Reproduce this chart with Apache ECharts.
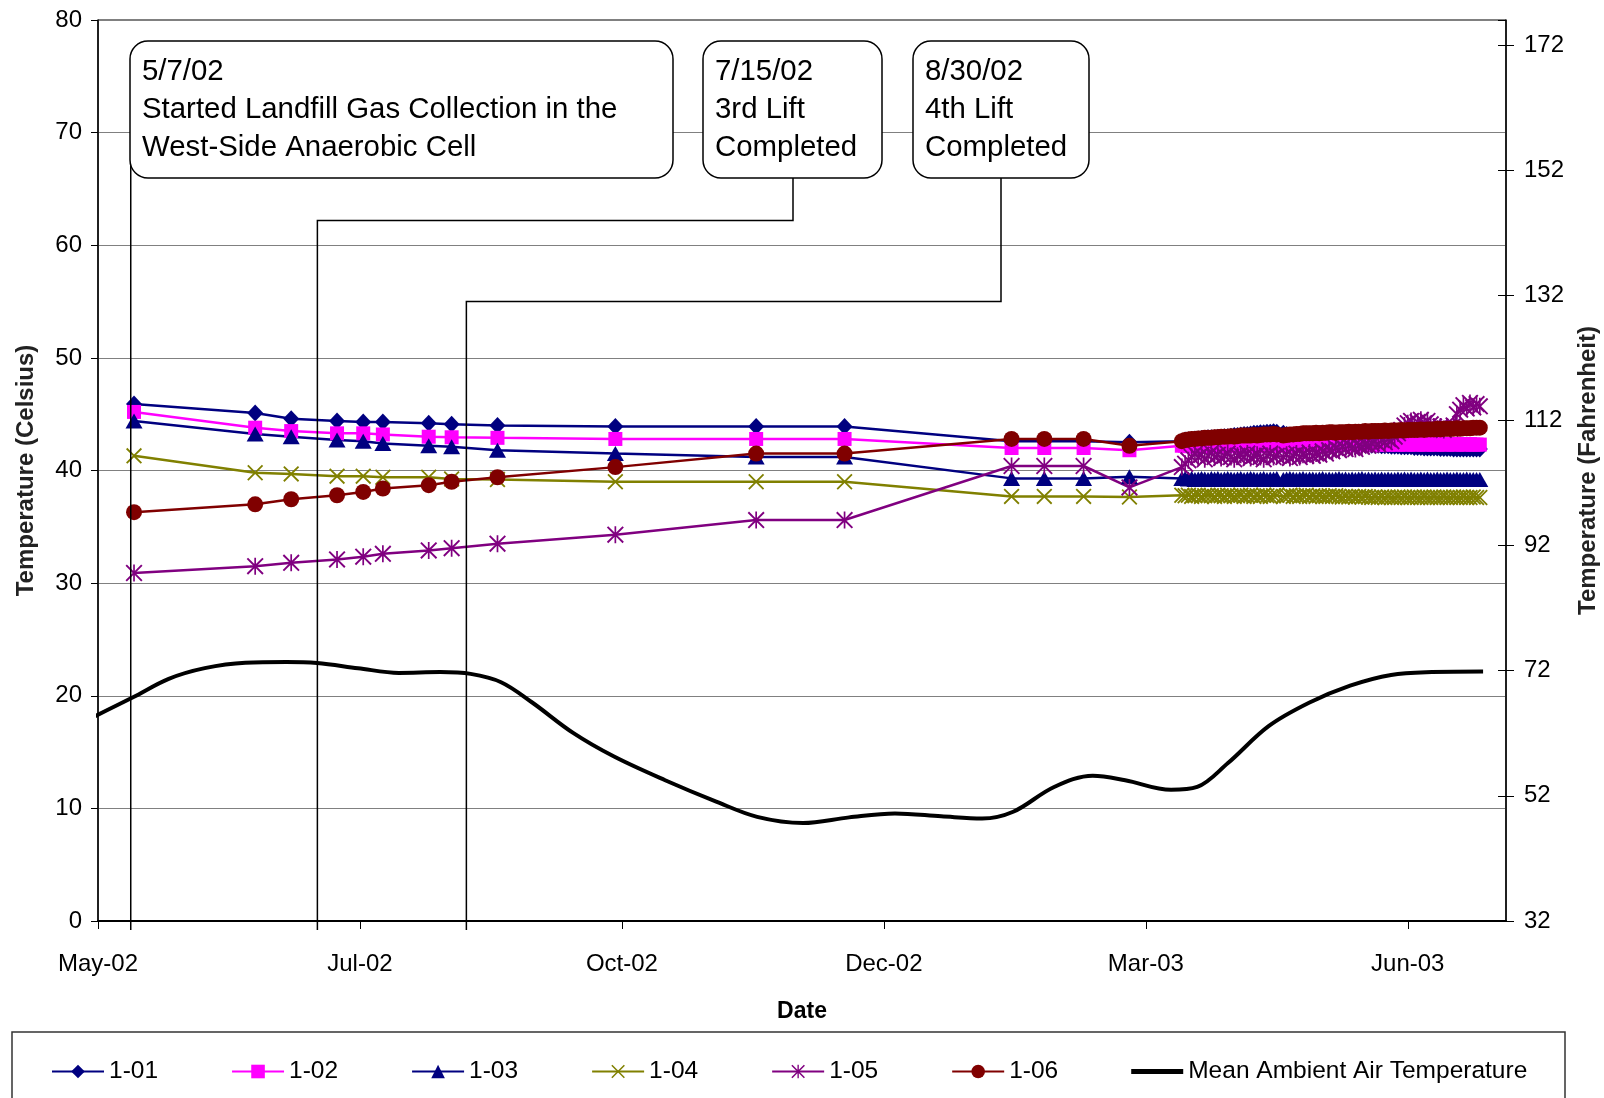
<!DOCTYPE html>
<html><head><meta charset="utf-8">
<script src="https://cdn.jsdelivr.net/npm/echarts@6/dist/echarts.min.js"></script>
<style>html,body{margin:0;padding:0;background:#fff}#c{width:1604px;height:1098px}</style>
</head><body><div id="c"></div>
<script>
const FONT = '"Liberation Sans", Arial, sans-serif';

// ---------- axis settings ----------
const axisStartDate = '2002-05-01';   // x axis origin (day 0)
const xTickIntervalDays = 80;
const xMaxDays = 430;
const celsiusMin = 0, celsiusMax = 80, celsiusStep = 10;
const fahrMin = 32, fahrMax = 176, fahrStep = 20;
const monthNames = ['Jan','Feb','Mar','Apr','May','Jun','Jul','Aug','Sep','Oct','Nov','Dec'];

// ---------- sensor data ----------
const seriesNames = ['1-01','1-02','1-03','1-04','1-05','1-06'];
const ambientName = 'Mean Ambient Air Temperature';

const sparseDates = ['2002-05-12','2002-06-18','2002-06-29','2002-07-13','2002-07-21','2002-07-27',
  '2002-08-10','2002-08-17','2002-08-31','2002-10-06','2002-11-18','2002-12-15',
  '2003-02-04','2003-02-14','2003-02-26','2003-03-12'];

const s0101Sparse = [45.9,45.1,44.6,44.4,44.3,44.3,44.2,44.1,44.0,43.9,43.9,43.9,42.6,42.6,42.6,42.5];
const s0102Sparse = [45.2,43.8,43.5,43.3,43.3,43.2,43.0,42.95,42.9,42.8,42.8,42.8,42.0,42.0,42.0,41.8];
const s0103Sparse = [44.4,43.25,43.0,42.7,42.6,42.4,42.2,42.1,41.8,41.5,41.2,41.2,39.3,39.3,39.3,39.45];
const s0104Sparse = [41.3,39.8,39.7,39.5,39.5,39.4,39.4,39.25,39.2,39.0,39.0,39.0,37.7,37.7,37.7,37.65];
const s0105Sparse = [30.9,31.5,31.8,32.1,32.35,32.6,32.9,33.1,33.5,34.3,35.6,35.6,40.4,40.4,40.4,38.5];
const s0106Sparse = [36.3,37.0,37.45,37.8,38.1,38.4,38.7,39.0,39.4,40.3,41.5,41.5,42.8,42.8,42.8,42.2];

// daily readings 2003-03-28 .. 2003-06-27 (null = missing day)
const denseStartDate = '2003-03-28';
const s0101Dense = [42.6,42.7,42.7,42.75,42.8,42.8,42.85,42.85,42.9,42.9,
  42.9,42.95,42.95,43.0,43.0,43.05,43.1,43.1,43.15,43.2,
  43.2,43.25,43.3,43.3,43.35,43.35,43.4,43.4,43.45,43.4,
  null,43.3,43.2,43.1,43.0,42.95,42.9,42.85,42.8,42.8,
  42.75,42.7,42.7,42.65,42.6,42.6,42.55,42.5,42.5,42.45,
  42.45,42.4,42.4,42.35,42.35,42.3,42.3,42.3,42.25,42.25,
  42.25,42.2,42.2,42.2,42.15,42.15,42.15,42.1,42.1,42.1,
  42.1,42.05,42.05,42.05,42.0,42.0,42.0,42.0,42.0,41.95,
  41.95,41.95,41.95,41.9,41.9,41.9,41.9,41.9,41.9,41.9,41.9,41.9];
const s0102Dense = [42.2,42.2,42.15,42.2,42.1,42.15,42.2,42.1,42.15,42.2,
  42.2,42.15,42.1,42.2,42.2,42.15,42.2,42.2,42.1,42.15,
  42.2,42.2,42.25,42.2,42.15,42.2,42.25,42.2,42.2,42.25,
  null,42.2,42.25,42.2,42.2,42.25,42.2,42.25,42.3,42.25,
  42.3,42.25,42.3,42.3,42.25,42.3,42.3,42.35,42.3,42.3,
  42.3,42.35,42.3,42.3,42.35,42.3,42.35,42.3,42.3,42.35,
  42.3,42.3,42.35,42.3,42.35,42.3,42.3,42.35,42.3,42.3,
  42.35,42.3,42.3,42.35,42.3,42.3,42.35,42.3,42.3,42.35,
  42.3,42.3,42.35,42.3,42.3,42.35,42.3,42.3,42.35,42.3,42.3,42.3];
const s0103Dense = [39.3,39.3,39.25,39.3,39.2,39.25,39.3,39.25,39.2,39.3,
  39.25,39.3,39.2,39.25,39.3,39.25,39.2,39.25,39.3,39.2,
  39.25,39.3,39.25,39.2,39.25,39.3,39.2,39.25,39.25,39.3,
  null,39.2,39.25,39.3,39.25,39.2,39.25,39.3,39.2,39.25,
  39.25,39.2,39.25,39.3,39.2,39.25,39.2,39.25,39.3,39.2,
  39.25,39.2,39.25,39.2,39.25,39.3,39.2,39.25,39.2,39.25,
  39.2,39.25,39.2,39.25,39.2,39.2,39.25,39.2,39.25,39.2,
  39.25,39.2,39.2,39.25,39.2,39.25,39.2,39.2,39.25,39.2,
  39.2,39.25,39.2,39.2,39.25,39.2,39.2,39.25,39.2,39.2,39.2,39.2];
const s0104Dense = [37.8,37.75,37.8,37.7,37.75,37.8,37.7,37.75,37.8,37.75,
  37.7,37.8,37.75,37.7,37.8,37.75,37.7,37.75,37.8,37.7,
  37.75,37.8,37.7,37.75,37.7,37.8,37.75,37.7,37.75,37.8,
  null,37.7,37.75,37.8,37.7,37.75,37.7,37.75,37.8,37.7,
  37.75,37.7,37.75,37.7,37.7,37.75,37.7,37.75,37.7,37.65,
  37.7,37.65,37.7,37.65,37.7,37.65,37.7,37.65,37.6,37.65,
  37.6,37.65,37.6,37.65,37.6,37.6,37.65,37.6,37.65,37.6,
  37.6,37.65,37.6,37.6,37.65,37.6,37.6,37.65,37.6,37.6,
  37.65,37.6,37.6,37.65,37.6,37.6,37.65,37.6,37.6,37.65,37.6,37.6];
const s0105Dense = [40.3,40.6,40.9,41.2,
  41.5,41.2,41.4,41.0,41.3,41.6,41.2,41.4,41.1,41.3,41.5,41.2,41.0,41.3,41.4,41.2,41.5,41.1,41.3,41.4,41.2,41.0,41.3,41.5,41.2,41.3,
  null,
  41.2,41.4,41.1,41.3,41.5,41.2,41.4,41.3,41.6,41.3,41.5,41.4,41.7,41.5,41.8,
  41.7,42.0,41.8,42.1,41.9,42.2,42.0,41.9,42.2,42.1,42.3,42.2,
  42.4,42.6,42.3,42.7,42.5,42.8,42.6,43.0,43.3,43.6,
  44.0,44.2,44.4,44.1,44.3,44.5,44.2,44.4,44.1,43.9,
  43.7,43.9,43.6,43.8,43.7,44.0,
  45.0,45.4,45.8,45.5,46.0,45.6,45.9,45.7];
const s0106Dense = [42.6,42.7,42.75,42.8,42.8,42.85,42.85,42.9,42.9,42.9,
  42.95,42.95,43.0,43.0,43.0,43.05,43.0,43.05,43.1,43.1,
  43.1,43.1,43.15,43.1,43.15,43.2,43.2,43.2,43.25,43.2,
  null,43.1,43.15,43.2,43.2,43.25,43.25,43.3,43.3,43.3,
  43.3,43.35,43.3,43.35,43.35,43.4,43.4,43.35,43.4,43.4,
  43.4,43.45,43.4,43.45,43.45,43.45,43.5,43.45,43.5,43.5,
  43.5,43.5,43.55,43.5,43.55,43.55,43.55,43.6,43.55,43.6,
  43.6,43.6,43.6,43.65,43.6,43.65,43.65,43.65,43.7,43.65,
  43.7,43.7,43.7,43.7,43.75,43.7,43.75,43.75,43.75,43.8,43.8,43.8];

// mean ambient air temperature (days after 2002-05-01, deg C)
const ambientDays = [-1.8,10.7,21.6,32.6,45,57.5,66.9,79.4,91.9,104.5,113.8,123.1,132.6,145.1,157.6,
  173.2,188.8,201.3,215.3,229.4,243.4,257.5,270,279.5,292,303.8,313.7,327.7,335.7,345,357.5,370,
  382.4,394.9,407.4,423];
const ambientC = [18.06,19.86,21.5,22.45,22.93,22.99,22.9,22.45,22.03,22.1,21.94,21.2,19.4,16.7,14.6,
  12.5,10.6,9.25,8.7,9.2,9.55,9.3,9.1,9.7,11.9,12.9,12.5,11.65,11.9,14.0,17.3,19.4,
  20.9,21.85,22.1,22.15];

// ---------- annotations ----------
const noteTexts = ['5/7/02\nStarted Landfill Gas Collection in the\nWest-Side Anaerobic Cell',
  '7/15/02\n3rd Lift\nCompleted', '8/30/02\n4th Lift\nCompleted'];
const noteLineDays = [10, 67, 112.5];       // where each callout reaches the date axis
const noteElbowC = [null, 62.2, 55.0];      // height of the elbow of each callout

// ---------- helpers ----------
const START = (() => { const [y,m,d] = axisStartDate.split('-').map(Number); return Date.UTC(y,m-1,d); })();
function dayOf(s) { const [y,m,d] = s.split('-').map(Number); return (Date.UTC(y,m-1,d) - START) / 86400000; }
const denseDays = s0101Dense.map((_, i) => dayOf(denseStartDate) + i);
function buildData(sp, de) {
  const a = sparseDates.map((d, i) => [dayOf(d), sp[i]]);
  const b = denseDays.map((d, i) => [d, de[i] == null ? '-' : de[i]]);
  return a.concat(b);
}
const X_PATH = 'path://M0,8 L8,0 L50,42 L92,0 L100,8 L58,50 L100,92 L92,100 L50,58 L8,100 L0,92 L42,50 Z';
const STAR_PATH = 'path://M0,8 L8,0 L50,42 L92,0 L100,8 L58,50 L100,92 L92,100 L50,58 L8,100 L0,92 L42,50 Z M45,0 L55,0 L55,100 L45,100 Z';
const BAR_ICON = 'path://M0,0 L100,0 L100,10 L0,10 Z';

const styles = [
  {color:'#000080', symbol:'diamond', size:[16,17]},
  {color:'#FF00FF', symbol:'rect', size:14},
  {color:'#000080', symbol:'triangle', size:[17,15]},
  {color:'#808000', symbol:X_PATH, size:16},
  {color:'#800080', symbol:STAR_PATH, size:17},
  {color:'#800000', symbol:'circle', size:16}
];
const sparseAll = [s0101Sparse,s0102Sparse,s0103Sparse,s0104Sparse,s0105Sparse,s0106Sparse];
const denseAll = [s0101Dense,s0102Dense,s0103Dense,s0104Dense,s0105Dense,s0106Dense];

const series = seriesNames.map((n, k) => ({
  name: n, type: 'line', data: buildData(sparseAll[k], denseAll[k]),
  symbol: styles[k].symbol, symbolSize: styles[k].size, showSymbol: true, connectNulls: true,
  lineStyle: {color: styles[k].color, width: 2.5},
  itemStyle: {color: styles[k].color, borderWidth: 0},
  emphasis: {disabled: true}, animation: false
}));
series.push({
  name: ambientName, type: 'line', data: ambientDays.map((d, i) => [d, ambientC[i]]),
  smooth: 0.35, symbol: 'none', showSymbol: false, clip: false,
  lineStyle: {color: '#000', width: 4}, itemStyle: {color: '#000'},
  emphasis: {disabled: true}, animation: false, z: 3
});

const chart = echarts.init(document.getElementById('c'), null, {renderer: 'canvas'});
const labelStyle = {fontFamily: FONT, fontSize: 24, color: '#000'};
chart.setOption({
  animation: false,
  textStyle: {fontFamily: FONT},
  grid: {left: 98, right: 98, top: 20, bottom: 177, show: true, borderColor: '#000', borderWidth: 1,
         backgroundColor: 'transparent', outerBoundsMode: 'none'},
  xAxis: {
    type: 'value', min: 0, max: xMaxDays, interval: xTickIntervalDays,
    name: 'Date', nameLocation: 'middle', nameGap: 79,
    nameTextStyle: {fontFamily: FONT, fontSize: 23, fontWeight: 'bold', color: '#000'},
    axisLine: {show: true, onZero: false, lineStyle: {color: '#000', width: 2}},
    axisTick: {show: true, length: 8, lineStyle: {color: '#000', width: 1}},
    axisLabel: Object.assign({margin: 31, showMaxLabel: false, showMinLabel: true,
      formatter: v => { const dt = new Date(START + v * 86400000);
        return monthNames[dt.getUTCMonth()] + '-' + String(dt.getUTCFullYear() % 100).padStart(2, '0'); }}, labelStyle),
    splitLine: {show: false}
  },
  yAxis: [
    { type: 'value', min: celsiusMin, max: celsiusMax, interval: celsiusStep, position: 'left',
      name: 'Temperature (Celsius)', nameLocation: 'middle', nameRotate: 90, nameGap: 60,
      nameTextStyle: {fontFamily: FONT, fontSize: 24, fontWeight: 'bold', color: '#222'},
      axisLine: {show: true, lineStyle: {color: '#000', width: 1.5}},
      axisTick: {show: true, length: 7, lineStyle: {color: '#000'}},
      axisLabel: Object.assign({margin: 16, padding: [8, 0, 0, 0]}, labelStyle),
      splitLine: {show: true, lineStyle: {color: '#808080', width: 1}} },
    { type: 'value', min: fahrMin, max: fahrMax, interval: fahrStep, position: 'right',
      name: 'Temperature (Fahrenheit)', nameLocation: 'middle', nameRotate: 90, nameGap: 70,
      nameTextStyle: {fontFamily: FONT, fontSize: 24, fontWeight: 'bold', color: '#222'},
      axisLine: {show: true, lineStyle: {color: '#000', width: 1.5}},
      axisTick: {show: true, length: 8, lineStyle: {color: '#000'}},
      axisLabel: Object.assign({margin: 18, showMaxLabel: false, padding: [8, 0, 0, 0]}, labelStyle),
      splitLine: {show: false} },
    { type: 'value', min: fahrMin, max: fahrMax, interval: fahrStep, position: 'right',
      axisLine: {show: false}, axisLabel: {show: false}, splitLine: {show: false},
      axisTick: {show: true, inside: true, length: 8, lineStyle: {color: '#000'}} }
  ],
  legend: {
    data: seriesNames.map(n => ({name: n})).concat([{name: ambientName, icon: BAR_ICON}]),
    left: 51, top: 1059, padding: 0,
    itemWidth: 52, itemHeight: 17, itemGap: 73,
    textStyle: {fontFamily: FONT, fontSize: 24.5, color: '#000'}
  },
  series: series
});

// callout annotations, anchored through the chart's own scales
function px(day) { return chart.convertToPixel({xAxisIndex: 0}, day); }
function py(c) { return chart.convertToPixel({yAxisIndex: 0}, c); }
const yAxisBottom = py(0) + 9;
const boxes = [{x:130, y:41, w:543, h:137}, {x:703, y:41, w:179, h:137}, {x:913, y:41, w:176, h:137}];
const exitX = [null, 793, 1001];
const graphics = [];
boxes.forEach((b, i) => {
  const lx = px(noteLineDays[i]);
  let pts;
  if (noteElbowC[i] == null) pts = [[lx, b.y + b.h - 18], [lx, yAxisBottom]];
  else { const ey = py(noteElbowC[i]); pts = [[exitX[i], b.y + b.h], [exitX[i], ey], [lx, ey], [lx, yAxisBottom]]; }
  graphics.push({type: 'polyline', shape: {points: pts}, style: {stroke: '#000', lineWidth: 1.5, fill: null}, z: 90});
  graphics.push({type: 'rect', shape: {x: b.x, y: b.y, width: b.w, height: b.h, r: 18},
    style: {fill: '#fff', stroke: '#000', lineWidth: 1.5}, z: 100});
  graphics.push({type: 'text', x: b.x + 12, y: b.y + 11.6,
    style: {text: noteTexts[i], font: '29.4px ' + FONT, fill: '#000', lineHeight: 38}, z: 101});
});
graphics.push({type: 'rect', shape: {x: 12, y: 1032, width: 1553, height: 100},
  style: {fill: null, stroke: '#333', lineWidth: 1.5}, z: 50});
chart.setOption({graphic: graphics});
</script></body></html>
